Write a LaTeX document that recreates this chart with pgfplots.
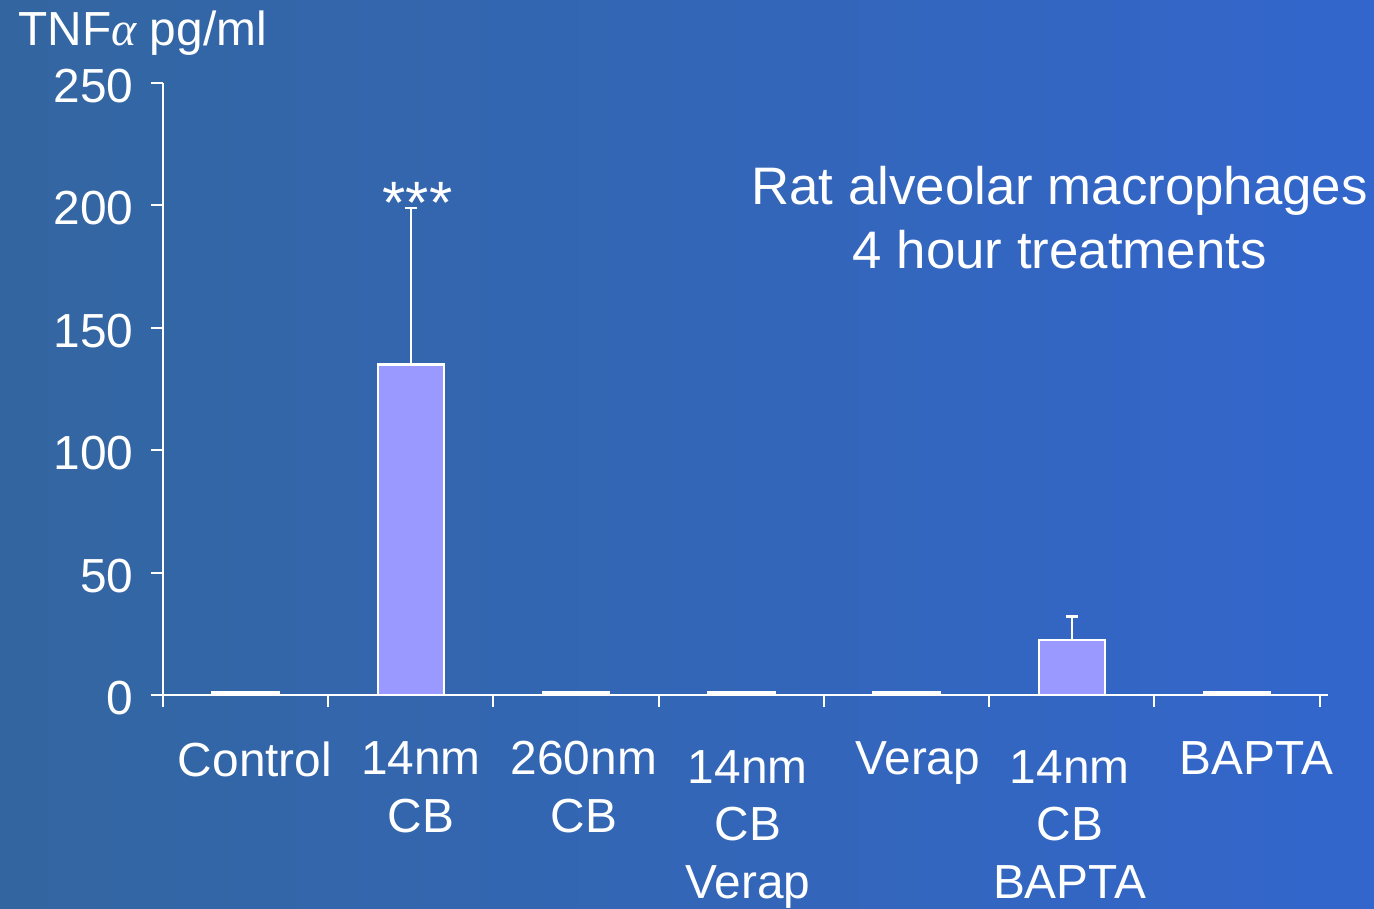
\documentclass[border=0pt]{standalone}
\usepackage{pgfplots}
\pgfplotsset{compat=1.18}
\usepackage{fontspec}
\setmainfont{Liberation Sans}
\newfontfamily\greekserif{Liberation Serif}
\definecolor{bgleft}{RGB}{51,102,160}
\definecolor{bgright}{RGB}{51,102,204}
\definecolor{barfill}{RGB}{153,153,255}
\newcommand{\lab}{\fontsize{48}{58}\selectfont}
\newcommand{\ttl}{\fontsize{53}{63}\selectfont}

\begin{document}
\begin{tikzpicture}
\shade[left color=bgleft, right color=bgright] (0,0) rectangle (1374bp,909bp);
\useasboundingbox (0,0) rectangle (1374bp,909bp);
\begin{axis}[
  at={(163bp,214bp)}, anchor=south west,
  scale only axis, width=1165bp, height=612bp,
  xmin=-0.5, xmax=6.55, ymin=0, ymax=250,
  axis lines=left,
  axis line style={white, line width=2bp, -},
  clip=false,
  tick align=outside,
  major tick length=12bp,
  tick style={white, line width=2bp},
  /pgf/number format/assume math mode=true,
  ytick={0,50,...,250},
  yticklabel style={font=\lab, text=white, xshift=-14bp, yshift=-3bp},
  xtick={-0.5,0.5,...,6.5},
  xticklabels={},
  extra x ticks={0.057,1.061,2.047,3.039,4.067,4.987,6.118},
  extra x tick labels={Control, {14nm\\CB}, {260nm\\CB},
    {\rule{0pt}{41.5bp}14nm\\CB\\Verap}, Verap,
    {\rule{0pt}{41.5bp}14nm\\CB\\BAPTA}, BAPTA},
  extra x tick style={major tick length=0pt,
    xticklabel style={font=\lab, text=white, align=center, yshift=-43bp}},
]
% near-zero responses
\addplot[ybar, bar width=0.4, fill=barfill, draw=white, line width=2.5bp]
  coordinates {(0,1) (2,1) (3,1) (4,1) (6,1)};
% responses with SEM (upper bar only)
\addplot[ybar, bar width=0.4, fill=barfill, draw=white, line width=2.5bp,
  error bars/.cd, y dir=plus, y explicit,
  error bar style={white, line width=2bp},
  error mark options={white, line width=2.5bp, mark size=6bp, rotate=90}]
  coordinates {
    (1,135) +- (0,64)
    (5,22.5) +- (0,9.5)
  };
\node[anchor=base, font=\fontsize{60}{60}\selectfont, text=white] at (axis cs:1.04,192.5) {***};
\node[anchor=base west, font=\lab, text=white] at (axis cs:-1.395,265.5) {TNF{\greekserif\itshape α} pg/ml};
\node[anchor=base, font=\ttl, text=white] at (axis cs:4.926,200.2) {Rat alveolar macrophages};
\node[anchor=base, font=\ttl, text=white] at (axis cs:4.926,174.4) {4 hour treatments};
\end{axis}
\end{tikzpicture}
\end{document}
